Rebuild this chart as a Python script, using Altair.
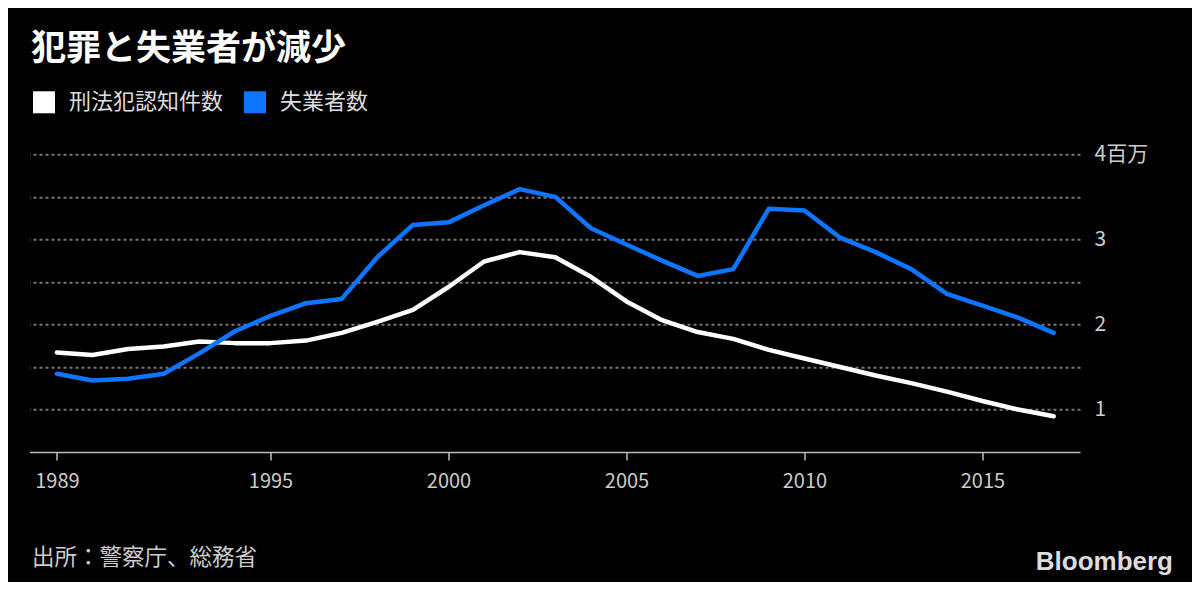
import altair as alt
import pandas as pd

years = list(range(1989, 2018))
crime = [1.67, 1.64, 1.71, 1.74, 1.80, 1.78, 1.78, 1.81, 1.90, 2.03,
         2.17, 2.44, 2.74, 2.85, 2.79, 2.56, 2.27, 2.05, 1.91, 1.83,
         1.70, 1.60, 1.50, 1.40, 1.31, 1.21, 1.10, 1.00, 0.92]
unemployed = [1.42, 1.34, 1.36, 1.42, 1.66, 1.92, 2.10, 2.25, 2.30, 2.79,
              3.17, 3.20, 3.40, 3.59, 3.50, 3.13, 2.94, 2.75, 2.57, 2.65,
              3.36, 3.34, 3.02, 2.85, 2.65, 2.36, 2.22, 2.08, 1.90]
series_names = ["刑法犯認知件数", "失業者数"]
series_colors = ["#ffffff", "#0d75ff"]
x_ticks = [1989, 1995, 2000, 2005, 2010, 2015]
y_ticks = [1, 1.5, 2, 2.5, 3, 3.5, 4]

df = pd.concat([
    pd.DataFrame({"year": years, "value": crime, "series": series_names[0]}),
    pd.DataFrame({"year": years, "value": unemployed, "series": series_names[1]}),
])

FONT = "Noto Sans CJK JP"

xscale = alt.Scale(domain=[1988.23, 2017.74], nice=False, zero=False)
yscale = alt.Scale(domain=[0.5, 4], nice=False, zero=False)
cscale = alt.Scale(domain=series_names, range=series_colors)

legend = alt.Legend(
    title=None, orient="none", legendX=3.5, legendY=-63, direction="horizontal",
    symbolType="square", symbolSize=484, symbolStrokeWidth=0, symbolOpacity=1,
    labelFontSize=22, labelFont=FONT, labelColor="#dddddd", labelOffset=14,
    columnPadding=20, labelLimit=400)

x_enc = alt.X("year:Q", scale=xscale, axis=alt.Axis(
    values=x_ticks, format="d", title=None, grid=False,
    domainColor="#bbbbbb", domainWidth=1.5, tickColor="#bbbbbb", tickWidth=1.5,
    tickSize=8, labelColor="#cccccc", labelFontSize=20, labelFont=FONT,
    labelPadding=11, labelFlush=False))
y_enc = alt.Y("value:Q", scale=yscale, axis=alt.Axis(
    orient="right", values=y_ticks, title=None, domain=False, ticks=False,
    grid=True, gridColor="#777777", gridDash=[3, 3], gridWidth=2,
    labelExpr="datum.value == 4 ? '4百万' : (datum.value % 1 == 0 ? '' + datum.value : '')",
    labelColor="#cccccc", labelFontSize=21, labelFont=FONT, labelPadding=14,
    labelBaseline="middle"))

legend_layer = alt.Chart(df).transform_filter("datum.year < 0").mark_square(filled=True).encode(
    x=x_enc, y=y_enc,
    color=alt.Color("series:N", scale=cscale, sort=series_names, legend=legend),
)

lines = alt.Chart(df).mark_line(strokeWidth=4.5, strokeCap="round", strokeJoin="round").encode(
    x=alt.X("year:Q", scale=xscale),
    y=alt.Y("value:Q", scale=yscale),
    color=alt.Color("series:N", scale=cscale, sort=series_names, legend=legend),
    order=alt.Order("year:Q"),
)

title = alt.Chart(pd.DataFrame({"t": ["犯罪と失業者が減少"]})).mark_text(
    align="left", baseline="middle", font=FONT, fontSize=35, fontWeight="bold", color="#ffffff"
).encode(text="t:N", x=alt.value(1.5), y=alt.value(-105.5))

source = alt.Chart(pd.DataFrame({"t": ["出所：警察庁、総務省"]})).mark_text(
    align="left", baseline="middle", font=FONT, fontSize=22.5, color="#cccccc"
).encode(text="t:N", x=alt.value(2.5), y=alt.value(403.5))

logo = alt.Chart(pd.DataFrame({"t": ["Bloomberg"]})).mark_text(
    align="right", baseline="middle", font="Liberation Sans", fontSize=26, fontWeight="bold",
    color="#dddddd"
).encode(text="t:N", x=alt.value(1143.5), y=alt.value(408))

chart = alt.layer(legend_layer, lines, title, source, logo).properties(
    width=1050.5, height=297.7,
    autosize=alt.AutoSizeParams(type="none"),
    padding={"left": 21.5, "top": 146.3, "right": 112, "bottom": 130},
    background="#000000",
).configure_view(stroke=None)

chart.save("out.html", embed_options={"renderer": "svg", "actions": False})
